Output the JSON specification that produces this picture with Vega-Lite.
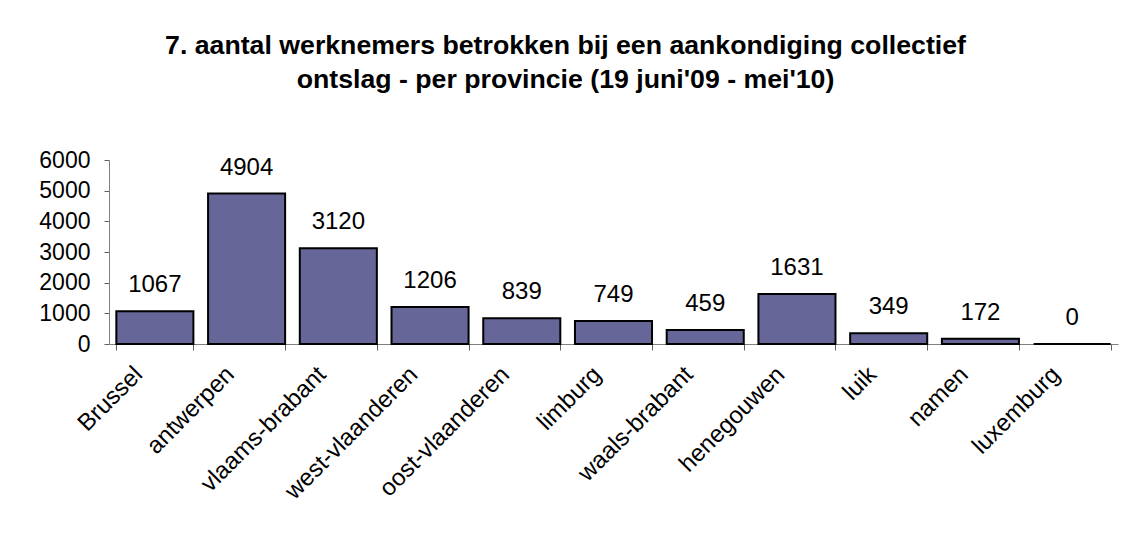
{
  "$schema": "https://vega.github.io/schema/vega-lite/v6.json",
  "autosize": "none",
  "width": 1009,
  "height": 184,
  "padding": {"left": 109, "top": 160, "right": 7, "bottom": 192},
  "background": "white",
  "config": {
    "font": "Liberation Sans",
    "view": {"stroke": null},
    "axis": {"labelFont": "Liberation Sans", "labelColor": "black", "domainColor": "#808080", "tickColor": "#606060", "grid": false, "title": null}
  },
  "title": {
    "text": ["7. aantal werknemers betrokken bij een aankondiging collectief", "ontslag - per provincie (19 juni'09 - mei'10)"],
    "font": "Liberation Sans",
    "fontSize": 26.7,
    "fontWeight": "bold",
    "color": "black",
    "anchor": "middle",
    "frame": "group",
    "dx": -48,
    "lineHeight": 34,
    "offset": 55
  },
  "data": {
    "values": [
      {"provincie": "Brussel", "aantal": 1067},
      {"provincie": "antwerpen", "aantal": 4904},
      {"provincie": "vlaams-brabant", "aantal": 3120},
      {"provincie": "west-vlaanderen", "aantal": 1206},
      {"provincie": "oost-vlaanderen", "aantal": 839},
      {"provincie": "limburg", "aantal": 749},
      {"provincie": "waals-brabant", "aantal": 459},
      {"provincie": "henegouwen", "aantal": 1631},
      {"provincie": "luik", "aantal": 349},
      {"provincie": "namen", "aantal": 172},
      {"provincie": "luxemburg", "aantal": 0}
    ]
  },
  "encoding": {
    "x": {
      "field": "provincie",
      "type": "nominal",
      "sort": null,
      "scale": {"paddingInner": 0.16, "paddingOuter": 0.08},
      "axis": {
        "labelAngle": -45,
        "labelAlign": "right",
        "labelBaseline": "top",
        "labelFontSize": 24,
        "labelPadding": 12,
        "labelOffset": -25,
        "tickBand": "extent",
        "tickSize": 6,
        "labelOverlap": false
      }
    },
    "y": {
      "field": "aantal",
      "type": "quantitative",
      "scale": {"domain": [0, 6000], "nice": false},
      "axis": {
        "values": [0, 1000, 2000, 3000, 4000, 5000, 6000],
        "labelFontSize": 23,
        "labelPadding": 14,
        "tickSize": 5,
        "format": "d"
      }
    }
  },
  "layer": [
    {
      "mark": {"type": "bar", "fill": "#666699", "stroke": "black", "strokeWidth": 2}
    },
    {
      "mark": {"type": "text", "fontSize": 24, "color": "black", "baseline": "alphabetic", "dy": -19},
      "encoding": {"text": {"field": "aantal", "type": "quantitative", "format": "d"}}
    }
  ]
}
